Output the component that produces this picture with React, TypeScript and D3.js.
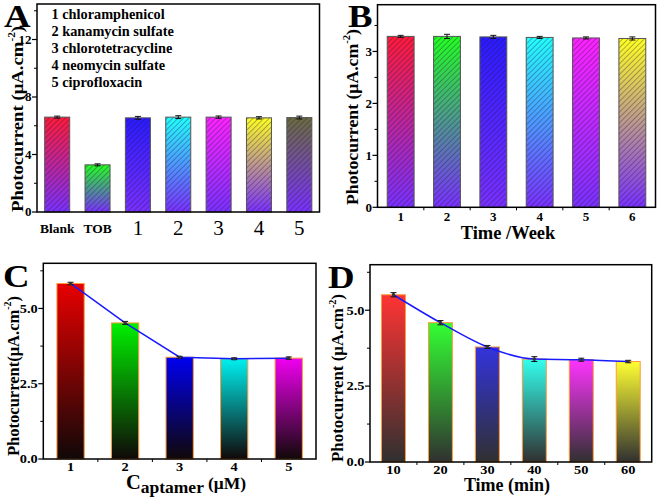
import React from "react";
import * as d3 from "d3";

const FONT = "'Liberation Serif', 'Times New Roman', serif";

// Panel A
const aCategories = ["Blank", "TOB", "1", "2", "3", "4", "5"];
const aValues = [6.6, 3.28, 6.55, 6.6, 6.6, 6.55, 6.57];
const aErrors = [0.07, 0.07, 0.1, 0.1, 0.08, 0.08, 0.1];
const aLegend = ["1 chloramphenicol", "2 kanamycin sulfate", "3 chlorotetracycline", "4 neomycin sulfate", "5 ciprofloxacin"];
const aMajorTicks = [0, 4, 8, 12];
const aMinorTicks = [2, 6, 10, 14];

// Panel B
const bCategories = ["1", "2", "3", "4", "5", "6"];
const bValues = [3.29, 3.29, 3.28, 3.27, 3.26, 3.25];
const bErrors = [0.02, 0.04, 0.03, 0.02, 0.02, 0.03];
const bMajorTicks = [0, 1, 2, 3];
const bMinorTicks = [0.5, 1.5, 2.5, 3.5];

// Panel C
const cCategories = ["1", "2", "3", "4", "5"];
const cValues = [5.83, 4.52, 3.38, 3.33, 3.35];
const cErrors = [0.04, 0.05, 0.03, 0.03, 0.04];
const cMajorTicks = [0, 2.5, 5];
const cMinorTicks = [1.25, 3.75, 6.25];

// Panel D
const dCategories = ["10", "20", "30", "40", "50", "60"];
const dValues = [5.51, 4.59, 3.79, 3.39, 3.37, 3.31];
const dErrors = [0.07, 0.07, 0.05, 0.08, 0.05, 0.04];
const dMajorTicks = [0, 2.5, 5];
const dMinorTicks = [1.25, 3.75, 6.25];

const hatchTop = ["#ff1a3a", "#22ff22", "#2a1aff", "#22ffff", "#ff22ff", "#ffff22", "#6b6b40"];
const aColors = hatchTop.slice(0, 7);
const bColors = hatchTop.slice(0, 6);
const cColors = ["#e80000", "#00f000", "#0000f0", "#00f0f0", "#f000f0"];
const dColors = ["#ff3333", "#33ff33", "#3333dd", "#33ffee", "#ff33ff", "#ffff33"];

type Spec = {
  id: string;
  letter: string;
  letterX: number;
  letterY: number;
  left: number;
  right: number;
  top: number;
  bottom: number;
  ymax: number;
  categories: string[];
  values: number[];
  errors: number[];
  colors: string[];
  bottomColor: string;
  hatch: boolean;
  line: boolean;
  curve: boolean;
  pad: number;
  majors: number[];
  minors: number[];
  fmt: (v: number) => string;
  xMinorTicks: boolean;
  yLabel: string;
  yLabelX: number;
  yLabelY: number;
  yLabelSize: number;
  yLabelLen: number;
  xTitle?: React.ReactNode;
  tickBaseline: number;
  tickSize: number;
  tickStretch: number;
  borderColor: string;
};

function Panel({ s }: { s: Spec }) {
  const x = d3
    .scaleBand<string>()
    .domain(s.categories)
    .range([s.left, s.right])
    .paddingInner(s.pad)
    .paddingOuter(s.pad / 2);
  const y = d3.scaleLinear().domain([0, s.ymax]).range([s.bottom, s.top]);
  const bw = x.bandwidth();
  const step = x.step();
  const lineGen = d3
    .line<number>()
    .x((_, i) => (x(s.categories[i]) as number) + bw / 2)
    .y((v) => y(v))
    .curve(s.curve ? d3.curveMonotoneX : d3.curveLinear);

  return (
    <g>
      <defs>
        {s.colors.map((c, i) => (
          <linearGradient key={i} id={`${s.id}-g${i}`} x1="0" y1="0" x2="0" y2="1">
            <stop offset="0" stopColor={c} />
            <stop offset="1" stopColor={s.bottomColor} />
          </linearGradient>
        ))}
      </defs>
      {s.values.map((v, i) => {
        const bx = x(s.categories[i]) as number;
        const by = y(v);
        const h = y(0) - by;
        return (
          <g key={i}>
            <rect x={bx} y={by} width={bw} height={h} fill={`url(#${s.id}-g${i})`} />
            {s.hatch && <rect x={bx} y={by} width={bw} height={h} fill="url(#hatch)" />}
            <rect x={bx} y={by} width={bw} height={h} fill="none" stroke={s.borderColor} strokeWidth={1} />
          </g>
        );
      })}
      {s.line && <path d={lineGen(s.values) || ""} fill="none" stroke="#1a1aff" strokeWidth={1.5} />}
      {s.values.map((v, i) => {
        const cx = (x(s.categories[i]) as number) + bw / 2;
        const y1 = y(v + s.errors[i]);
        const y2 = y(v - s.errors[i]);
        return (
          <g key={i} stroke="#111" strokeWidth={1}>
            <line x1={cx} x2={cx} y1={y1} y2={y2} />
            <line x1={cx - 3} x2={cx + 3} y1={y1} y2={y1} />
            <line x1={cx - 3} x2={cx + 3} y1={y2} y2={y2} />
            {s.line && <rect x={cx - 1.5} y={y(v) - 1.5} width={3} height={3} fill="#333" stroke="none" />}
          </g>
        );
      })}
      <rect x={s.left} y={s.top} width={s.right - s.left} height={s.bottom - s.top} fill="none" stroke="#000" strokeWidth={1.5} />
      {s.majors.map((t) => (
        <g key={t}>
          <line x1={s.left - 5} x2={s.left} y1={y(t)} y2={y(t)} stroke="#000" strokeWidth={1.2} />
          <text
            transform={`translate(${s.left - 5.5},${y(t) + 4.3}) scale(${s.tickStretch},1)`}
            textAnchor="end"
            fontFamily={FONT}
            fontWeight="bold"
            fontSize={s.tickSize}
          >
            {s.fmt(t)}
          </text>
        </g>
      ))}
      {s.minors.map((t) => (
        <line key={t} x1={s.left - 3} x2={s.left} y1={y(t)} y2={y(t)} stroke="#000" strokeWidth={1} />
      ))}
      {s.xMinorTicks &&
        s.categories.slice(0, -1).map((c) => {
          const xx = (x(c) as number) + bw / 2 + step / 2;
          return <line key={c} x1={xx} x2={xx} y1={s.bottom} y2={s.bottom + 3} stroke="#000" strokeWidth={1} />;
        })}
      {s.categories.map((c) => {
        const cx = (x(c) as number) + bw / 2;
        const isDigitA = s.id === "A" && /^\d$/.test(c);
        return (
          <text
            key={c}
            transform={`translate(${cx},${isDigitA ? s.tickBaseline + 2 : s.tickBaseline}) scale(${s.id === "A" ? 1 : s.tickStretch},1)`}
            textAnchor="middle"
            fontFamily={FONT}
            fontWeight={isDigitA ? "normal" : "bold"}
            fontSize={isDigitA ? 21 : s.id === "A" ? 13.5 : s.tickSize}
          >
            {c}
          </text>
        );
      })}
      <text
        transform={`translate(${s.yLabelX},${s.yLabelY}) rotate(-90)`}
        textAnchor="middle"
        fontFamily={FONT}
        fontWeight="bold"
        fontSize={s.yLabelSize}
        textLength={s.yLabelLen}
        lengthAdjust="spacingAndGlyphs"
      >
        {s.yLabel}
        <tspan fontSize={s.yLabelSize * 0.6} dy={-s.yLabelSize * 0.45}>
          -2
        </tspan>
        <tspan dy={s.yLabelSize * 0.45}>)</tspan>
      </text>
      {s.xTitle}
      <text
        transform={`translate(${s.letterX},${s.letterY}) scale(1.15,1)`}
        fontFamily={FONT}
        fontWeight="bold"
        fontSize={32}
      >
        {s.letter}
      </text>
    </g>
  );
}

const panels: Spec[] = [
  {
    id: "A",
    letter: "A",
    letterX: 4,
    letterY: 27,
    left: 37,
    right: 319.5,
    top: 4,
    bottom: 212,
    ymax: 14.47,
    categories: aCategories,
    values: aValues,
    errors: aErrors,
    colors: aColors,
    bottomColor: "#7a30ff",
    hatch: true,
    line: false,
    curve: false,
    pad: 0.38,
    majors: aMajorTicks,
    minors: aMinorTicks,
    fmt: d3.format("d"),
    xMinorTicks: false,
    yLabel: "Photocurrent (μA.cm",
    yLabelX: 23,
    yLabelY: 119,
    yLabelSize: 17.5,
    yLabelLen: 186,
    tickBaseline: 233,
    tickSize: 13,
    tickStretch: 1,
    borderColor: "#555",
    xTitle: (
      <g fontFamily={FONT} fontWeight="bold" fontSize={14.3}>
        {aLegend.map((t, i) => (
          <text key={t} x={51.5} y={19 + i * 17}>
            {t}
          </text>
        ))}
      </g>
    ),
  },
  {
    id: "B",
    letter: "B",
    letterX: 348,
    letterY: 27,
    left: 377.5,
    right: 655.5,
    top: 4.7,
    bottom: 207.3,
    ymax: 3.9,
    categories: bCategories,
    values: bValues,
    errors: bErrors,
    colors: bColors,
    bottomColor: "#7a30ff",
    hatch: true,
    line: false,
    curve: false,
    pad: 0.42,
    majors: bMajorTicks,
    minors: bMinorTicks,
    fmt: d3.format("d"),
    xMinorTicks: true,
    yLabel: "Photocurrent (μA.cm",
    yLabelX: 358,
    yLabelY: 117,
    yLabelSize: 17.5,
    yLabelLen: 176,
    tickBaseline: 220.5,
    tickSize: 13,
    tickStretch: 1,
    borderColor: "#555",
    xTitle: (
      <text x={508} y={238.5} textAnchor="middle" fontFamily={FONT} fontWeight="bold" fontSize={18.5}>
        Time /Week
      </text>
    ),
  },
  {
    id: "C",
    letter: "C",
    letterX: 3,
    letterY: 287,
    left: 43.3,
    right: 316,
    top: 263.3,
    bottom: 459,
    ymax: 6.5,
    categories: cCategories,
    values: cValues,
    errors: cErrors,
    colors: cColors,
    bottomColor: "#100808",
    hatch: false,
    line: true,
    curve: false,
    pad: 0.5,
    majors: cMajorTicks,
    minors: cMinorTicks,
    fmt: d3.format(".1f"),
    xMinorTicks: true,
    yLabel: "Photocurrent(μA.cm",
    yLabelX: 18.5,
    yLabelY: 376,
    yLabelSize: 16,
    yLabelLen: 160,
    tickBaseline: 471,
    tickSize: 12,
    tickStretch: 1.2,
    borderColor: "#ff9a3c",
    xTitle: (
      <text x={186} y={489} textAnchor="middle" fontFamily={FONT} fontWeight="bold" fontSize={20.5}>
        C
        <tspan fontSize={17.5} dy={4}>
          aptamer
        </tspan>
        <tspan fontSize={17.5} dy={-4}>
          {" "}(μM)
        </tspan>
      </text>
    ),
  },
  {
    id: "D",
    letter: "D",
    letterX: 328,
    letterY: 288,
    left: 370,
    right: 651.7,
    top: 264.7,
    bottom: 462,
    ymax: 6.5,
    categories: dCategories,
    values: dValues,
    errors: dErrors,
    colors: dColors,
    bottomColor: "#303030",
    hatch: false,
    line: true,
    curve: true,
    pad: 0.49,
    majors: dMajorTicks,
    minors: dMinorTicks,
    fmt: d3.format(".1f"),
    xMinorTicks: true,
    yLabel: "Photocurrent (μA.cm",
    yLabelX: 343,
    yLabelY: 378,
    yLabelSize: 16.5,
    yLabelLen: 168,
    tickBaseline: 473.5,
    tickSize: 12,
    tickStretch: 1.2,
    borderColor: "#ff9a3c",
    xTitle: (
      <text x={507} y={491} textAnchor="middle" fontFamily={FONT} fontWeight="bold" fontSize={18}>
        Time (min)
      </text>
    ),
  },
];

export default function App() {
  return (
    <svg
      width={661}
      height={497}
      viewBox="0 0 661 497"
      style={{ position: "absolute", left: 0, top: 0, background: "#fff" }}
    >
      <defs>
        <pattern id="hatch" width={3.8} height={3.8} patternUnits="userSpaceOnUse" patternTransform="rotate(45)">
          <line x1={0} y1={0} x2={0} y2={3.8} stroke="#1a1a30" strokeWidth={0.8} strokeOpacity={0.85} />
        </pattern>
      </defs>
      <rect x={0} y={0} width={661} height={497} fill="#fff" />
      {panels.map((p) => (
        <Panel key={p.id} s={p} />
      ))}
    </svg>
  );
}
